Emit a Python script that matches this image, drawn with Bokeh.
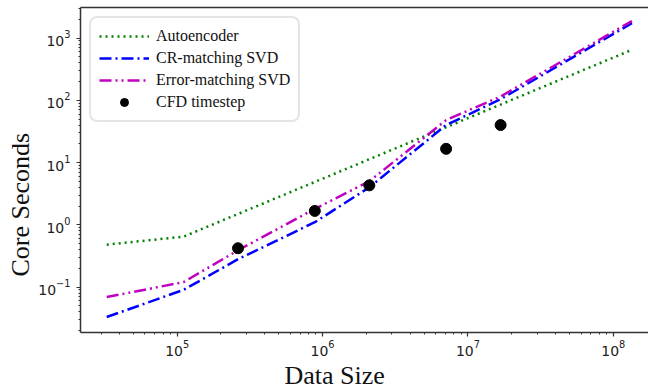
from bokeh.plotting import figure
from bokeh.models import (Range1d, LogAxis, LogTicker, FixedTicker, LogTickFormatter,
                          Legend, LegendItem, Title)
from bokeh.embed import file_html
from bokeh.resources import INLINE

# ---- data ----
ae_x = [32768, 110592, 134217728]
ae_y = [0.48, 0.645, 646]

svd_x = [32768, 110592, 262144, 884736, 2097152, 7077888, 16777216, 134217728]
cr_y = [0.033, 0.09, 0.28, 1.1, 4.0, 40, 104, 1730]
err_y = [0.069, 0.12, 0.39, 1.8, 5.0, 48, 115, 1870]

cfd_x = [262144, 884736, 2097152, 7077888, 16777216]
cfd_y = [0.42, 1.67, 4.3, 16.6, 40]

labels = ["Autoencoder", "CR-matching SVD", "Error-matching SVD", "CFD timestep"]
x_title = "Data Size"
y_title = "Core Seconds"

SERIF = "Liberation Serif"
SANS = "DejaVu Sans"
AX = "#333333"

p = figure(width=648, height=389, x_axis_type="log", y_axis_type="log",
           x_range=Range1d(10 ** 4.335, 10 ** 8.242), y_range=Range1d(10 ** -1.73, 10 ** 3.49),
           output_backend="svg", toolbar_location=None,
           min_border_left=80, min_border_right=0, min_border_top=7, min_border_bottom=54)
p.outline_line_color = None
p.xgrid.visible = False
p.ygrid.visible = False
p.background_fill_color = "white"
p.border_fill_color = "white"

for ax in (p.xaxis[0], p.yaxis[0]):
    ax.ticker = LogTicker(num_minor_ticks=10)
    ax.formatter = LogTickFormatter()
    ax.axis_line_color = AX
    ax.axis_line_width = 1.5
    ax.major_tick_line_color = AX
    ax.minor_tick_line_color = AX
    ax.major_tick_line_width = 1.2
    ax.minor_tick_line_width = 1
    ax.major_tick_in = 0
    ax.major_tick_out = 4
    ax.minor_tick_in = 0
    ax.minor_tick_out = 2
    ax.major_label_text_font = SANS
    ax.major_label_text_font_size = "14px"
    ax.major_label_text_color = "#222222"

p.xaxis.major_label_standoff = 3
p.yaxis.major_label_standoff = 6

top = LogAxis(ticker=FixedTicker(ticks=[]), axis_line_color=AX, axis_line_width=1.5,
              major_tick_line_color=None, minor_tick_line_color=None,
              major_label_text_font_size="0px", major_label_standoff=0,
              major_tick_out=0, minor_tick_out=0, axis_label_standoff=0)
p.add_layout(top, "above")

xt = Title(text=x_title, align="left", offset=204, standoff=0, text_line_height=0.8,
           text_font=SERIF, text_font_size="26px", text_font_style="normal", text_color="#111111")
p.add_layout(xt, "below")
yt = Title(text=y_title, align="left", offset=56, standoff=2,
           text_font=SERIF, text_font_size="26px", text_font_style="normal", text_color="#111111")
p.add_layout(yt, "left")

r_ae = p.line(ae_x, ae_y, line_color="green", line_width=2.5, line_dash="2 4")
r_cr = p.line(svd_x, cr_y, line_color="blue", line_width=2.5, line_dash="12 4 2 4")
r_err = p.line(svd_x, err_y, line_color="#bf00bf", line_width=2.5, line_dash="12 4 2 4 2 4")
r_cfd = p.scatter(cfd_x, cfd_y, size=11, fill_color="black", line_color="black")

legend = Legend(items=[LegendItem(label=labels[0], renderers=[r_ae]),
                       LegendItem(label=labels[1], renderers=[r_cr]),
                       LegendItem(label=labels[2], renderers=[r_err]),
                       LegendItem(label=labels[3], renderers=[r_cfd])],
                location="top_left")
legend.margin = 9
legend.padding = 8
legend.spacing = 2
legend.glyph_width = 50
legend.glyph_height = 20
legend.label_height = 20
legend.label_standoff = 7
legend.label_text_font = SERIF
legend.label_text_font_size = "16px"
legend.label_text_color = "#111111"
legend.border_line_color = "#cccccc"
legend.border_line_width = 2
legend.border_radius = 8
legend.background_fill_color = "white"
legend.background_fill_alpha = 1.0
p.add_layout(legend, "center")

open("out.html", "w").write(file_html(p, INLINE))
